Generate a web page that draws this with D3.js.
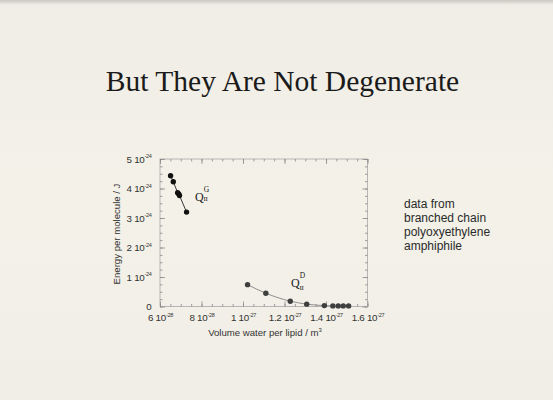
<!DOCTYPE html>
<html><head><meta charset="utf-8">
<script src="https://cdn.jsdelivr.net/npm/d3@7"></script>
<style>
html,body{margin:0;padding:0;background:#f2f0e9;}
svg{display:block;}
</style></head>
<body>
<script>
// ---- data ----
const gX = [6.51e-28, 6.64e-28, 6.85e-28, 6.91e-28, 6.94e-28, 7.28e-28];
const gY = [4.43e-24, 4.23e-24, 3.86e-24, 3.81e-24, 3.76e-24, 3.20e-24];
const dX = [1.022e-27, 1.110e-27, 1.228e-27, 1.307e-27, 1.392e-27, 1.433e-27, 1.459e-27, 1.483e-27, 1.509e-27];
const dY = [0.74e-24, 0.45e-24, 0.18e-24, 0.08e-24, 0.03e-24, 0.02e-24, 0.02e-24, 0.02e-24, 0.02e-24];
const xTicks = [6e-28, 8e-28, 1.0e-27, 1.2e-27, 1.4e-27, 1.6e-27];
const xTickMant = ["6", "8", "1", "1.2", "1.4", "1.6"];
const xTickExp = ["-28", "-28", "-27", "-27", "-27", "-27"];
const yTicks = [0, 1e-24, 2e-24, 3e-24, 4e-24, 5e-24];
const yTickMant = ["0", "1", "2", "3", "4", "5"];
const yTickExp = ["", "-24", "-24", "-24", "-24", "-24"];
const title = "But They Are Not Degenerate";
const note = ["data from", "branched chain", "polyoxyethylene", "amphiphile"];

const W = 553, H = 400;
const svg = d3.select("body").append("svg").attr("width", W).attr("height", H);
const defs = svg.append("defs");
const grad = defs.append("linearGradient").attr("id","bg").attr("x1",0).attr("y1",0).attr("x2",0).attr("y2",1);
grad.append("stop").attr("offset","0").attr("stop-color","#c9c7c1");
grad.append("stop").attr("offset","0.012").attr("stop-color","#efede5");
grad.append("stop").attr("offset","0.5").attr("stop-color","#f3f1e8");
grad.append("stop").attr("offset","1").attr("stop-color","#f0eee6");
svg.append("rect").attr("width",W).attr("height",H).attr("fill","url(#bg)");

svg.append("text").attr("x",282.5).attr("y",90.5).attr("text-anchor","middle")
  .attr("font-family","Liberation Serif, Times New Roman, serif").attr("font-size",29.5)
  .attr("fill","#1a1a1a").text(title);

const L = 160, R = 367.5, T = 159, B = 306.5;
const x = d3.scaleLinear().domain([6e-28, 1.6e-27]).range([L, R]);
const y = d3.scaleLinear().domain([0, 5e-24]).range([B, T]);

const axisColor = "#8a8a8a";
// frame
svg.append("rect").attr("x",L).attr("y",T).attr("width",R-L).attr("height",B-T)
  .attr("fill","none").attr("stroke","#a8a8a8").attr("stroke-width",0.8);

const xMinor = d3.range(0, 21).map(i => 6e-28 + i*0.5e-28);
const yMinor = d3.range(0, 21).map(i => i*0.25e-24);

function styleAxis(g){
  g.select(".domain").remove();
  g.selectAll("line").attr("stroke", axisColor).attr("stroke-width",0.8);
}
[[d3.axisBottom(x), B],[d3.axisTop(x), T]].forEach(([a,pos])=>{
  svg.append("g").attr("transform",`translate(0,${pos})`)
    .call(a.tickValues(xMinor).tickSize(-2.5).tickFormat("")).call(styleAxis);
  svg.append("g").attr("transform",`translate(0,${pos})`)
    .call(a.tickValues(xTicks).tickSize(-5).tickFormat("")).call(styleAxis);
});
[[d3.axisLeft(y), L],[d3.axisRight(y), R]].forEach(([a,pos])=>{
  svg.append("g").attr("transform",`translate(${pos},0)`)
    .call(a.tickValues(yMinor).tickSize(-2.5).tickFormat("")).call(styleAxis);
  svg.append("g").attr("transform",`translate(${pos},0)`)
    .call(a.tickValues(yTicks).tickSize(-5).tickFormat("")).call(styleAxis);
});

const sans = "Liberation Sans, Arial, Helvetica, sans-serif";
const labColor = "#333";
// x tick labels
const xl = svg.append("g").attr("transform",`translate(0,${B})`)
  .call(d3.axisBottom(x).tickValues(xTicks).tickSize(0).tickPadding(14.5).tickFormat(""));
xl.select(".domain").remove();
xl.selectAll(".tick text").each(function(d,i){
  const t = d3.select(this).attr("font-family",sans).attr("font-size",9.8).attr("fill",labColor)
    .attr("text-anchor","middle").attr("dy","0").attr("letter-spacing",-0.3);
  t.append("tspan").text(xTickMant[i] + " 10");
  t.append("tspan").attr("font-size",5.5).attr("dy",-4.5).text(xTickExp[i]);
});
// y tick labels
const yl = svg.append("g").attr("transform",`translate(${L},0)`)
  .call(d3.axisLeft(y).tickValues(yTicks).tickSize(0).tickPadding(8.5).tickFormat(""));
yl.select(".domain").remove();
yl.selectAll(".tick text").each(function(d,i){
  const t = d3.select(this).attr("font-family",sans).attr("font-size",9.8).attr("fill",labColor)
    .attr("text-anchor","end").attr("dy","0.32em").attr("letter-spacing",-0.3);
  if (yTickExp[i]) {
    t.append("tspan").text(yTickMant[i] + " 10");
    t.append("tspan").attr("font-size",5.5).attr("dy",-4.5).text(yTickExp[i]);
  } else {
    t.append("tspan").text(yTickMant[i]);
  }
});

// axis titles
svg.append("text").attr("transform","translate(120,234) rotate(-90)").attr("text-anchor","middle")
  .attr("font-family",sans).attr("font-size",9.6).attr("fill",labColor).text("Energy per molecule / J");
const xt = svg.append("text").attr("x",265).attr("y",336).attr("text-anchor","middle")
  .attr("font-family",sans).attr("font-size",9.6).attr("fill",labColor);
xt.append("tspan").text("Volume water per lipid / m");
xt.append("tspan").attr("font-size",6).attr("dy",-4).text("3");

// lines
const gData = gX.map((v,i)=>[v,gY[i]]);
const dData = dX.map((v,i)=>[v,dY[i]]);
svg.append("path").datum(gData).attr("fill","none").attr("stroke","#222").attr("stroke-width",0.9)
  .attr("d", d3.line().x(d=>x(d[0])).y(d=>y(d[1])));
svg.append("path").datum(dData).attr("fill","none").attr("stroke","#777").attr("stroke-width",0.8)
  .attr("d", d3.line().curve(d3.curveMonotoneX).x(d=>x(d[0])).y(d=>y(d[1])));
svg.append("g").selectAll("circle").data(gData).join("circle")
  .attr("cx",d=>x(d[0])).attr("cy",d=>y(d[1])).attr("r",2.7).attr("fill","#111");
svg.append("g").selectAll("circle").data(dData).join("circle")
  .attr("cx",d=>x(d[0])).attr("cy",d=>y(d[1])).attr("r",2.7).attr("fill","#3e3e3e");

// Q labels
const serif = "Liberation Serif, Times New Roman, serif";
function qLabel(qx, qy, sup, subDy){
  const g = svg.append("g").attr("font-family",serif).attr("fill","#222");
  g.append("text").attr("x",qx).attr("y",qy).attr("font-size",12).text("Q");
  g.append("text").attr("x",qx+8.4).attr("y",qy+subDy).attr("font-size",7).attr("letter-spacing",-0.2).text("II");
  g.append("text").attr("x",qx+8.8).attr("y",qy-8.5).attr("font-size",7.5).text(sup);
}
qLabel(195, 200.5, "G", 0.5);
qLabel(291, 286.5, "D", 3);

// note
const nt = svg.append("text").attr("font-family",sans).attr("font-size",12).attr("fill","#2a2a2a");
note.forEach((s,i)=> nt.append("tspan").attr("x",404).attr("y",207.5 + i*14).text(s));
</script>
</body></html>
